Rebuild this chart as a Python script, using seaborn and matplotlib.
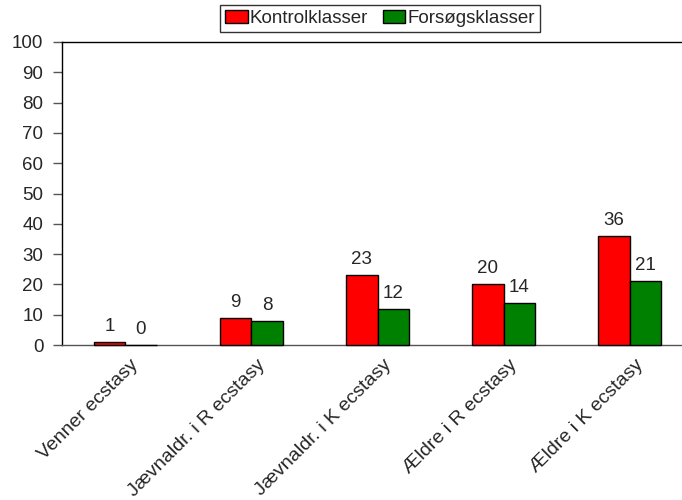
import matplotlib
matplotlib.use("Agg")
import matplotlib.pyplot as plt
import matplotlib.transforms as mtransforms
import seaborn as sns
import pandas as pd

categories = ["Venner ecstasy", "Jævnaldr. i R ecstasy", "Jævnaldr. i K ecstasy",
              "Ældre i R ecstasy", "Ældre i K ecstasy"]
kontrol = [1, 9, 23, 20, 36]
forsog = [0, 8, 12, 14, 21]
series = ["Kontrolklasser", "Forsøgsklasser"]
colors = ["#ff0000", "#008000"]
yticks = [0, 10, 20, 30, 40, 50, 60, 70, 80, 90, 100]

sns.set_theme(style="white")
plt.rcParams["font.family"] = ["Liberation Sans", "DejaVu Sans"]

df = pd.DataFrame({
    "kategori": categories * 2,
    "serie": [series[0]] * len(categories) + [series[1]] * len(categories),
    "værdi": kontrol + forsog,
})

fig = plt.figure(figsize=(6.82, 5.0), dpi=100)
ax = fig.add_axes([62 / 682, 1 - 345 / 500, 631 / 682, 303 / 500])

sns.barplot(data=df, x="kategori", y="værdi", hue="serie", palette=colors,
            width=0.5, edgecolor="black", linewidth=1.0, ax=ax, legend=True,
            saturation=1.0)

# bars above the spines so zero-height bars still show their black outline
for cont in ax.containers:
    for bar in cont:
        bar.set_zorder(3)
        bar.set_clip_on(False)
    ax.bar_label(cont, padding=5, fontsize=13.5)

ax.set_ylim(0, 100)
ax.set_yticks(yticks)
ax.set_xlim(-0.5, 4.5)
ax.set_xlabel("")
ax.set_ylabel("")
ax.tick_params(axis="y", which="both", left=True, length=6.5, width=1.0,
               color="#555555", labelsize=13.5, pad=7)
ax.tick_params(axis="x", bottom=False, labelsize=14, pad=2)
shift = mtransforms.ScaledTranslation(5 / 100, 0, fig.dpi_scale_trans)
for lbl in ax.get_xticklabels():
    lbl.set_rotation(45)
    lbl.set_ha("right")
    lbl.set_rotation_mode("anchor")
    lbl.set_transform(lbl.get_transform() + shift)
ax.spines["right"].set_visible(False)
ax.spines["left"].set_color("black")
ax.spines["bottom"].set_color("#555555")
ax.spines["top"].set_color("black")
for s in ax.spines.values():
    s.set_linewidth(1.0)

ax.legend(loc="upper center", bbox_to_anchor=(380 / 682, 1 - 5 / 500),
          bbox_transform=fig.transFigure, ncol=2, frameon=True, fancybox=False,
          edgecolor="black", fontsize=13.5, handlelength=1.2, handleheight=0.75,
          handletextpad=0.1, columnspacing=0.8, borderpad=0.25,
          borderaxespad=0.0)

fig.savefig("out.png", dpi=100)
